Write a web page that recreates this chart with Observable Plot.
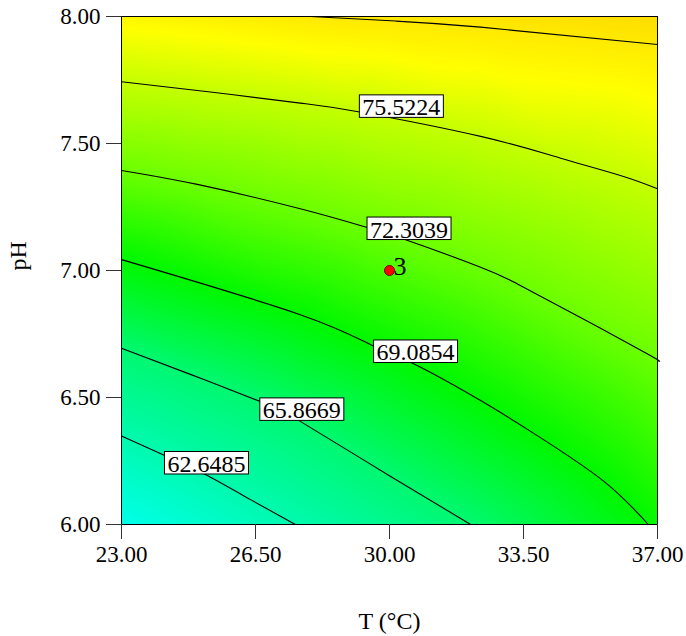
<!DOCTYPE html>
<html>
<head>
<meta charset="utf-8">
<script src="https://cdn.jsdelivr.net/npm/d3@7"></script>
<script src="https://cdn.jsdelivr.net/npm/@observablehq/plot@0.6"></script>
<style>
  html, body { margin: 0; padding: 0; background: #fff; }
  svg text { font-family: "Liberation Serif", "Times New Roman", serif; }
</style>
</head>
<body>
<div id="chart"></div>
<script>
// ---- data ----
const xTicks = [23, 26.5, 30, 33.5, 37];
const yTicks = [6, 6.5, 7, 7.5, 8];
const levels = [62.6485, 65.8669, 69.0854, 72.3039, 75.5224, 78.7409];

// contour lines as [T, pH] points
const contour62 = [[23, 6.348], [24.13, 6.272], [25.19, 6.197], [26.37, 6.098], [27.54, 6.0]];
const contour65 = [[23, 6.694], [24.80, 6.591], [26.63, 6.484], [27.67, 6.406], [30.03, 6.189], [32.12, 6.0]];
const contour69 = [[23, 7.043], [27.67, 6.826], [29.55, 6.705], [30.63, 6.633], [32.38, 6.488], [33.86, 6.350], [35.60, 6.170], [36.76, 6.0]];
const contour72 = [[23, 7.394], [24.98, 7.339], [27.67, 7.243], [29.40, 7.170], [30.42, 7.121], [32.38, 7.013], [33.33, 6.948], [34.73, 6.836], [36.73, 6.672], [37, 6.646]];
const contour75 = [[23, 7.743], [25.32, 7.703], [27.67, 7.659], [29.22, 7.624], [32.38, 7.528], [34.47, 7.442], [36.03, 7.374], [37, 7.322]];
const contour78 = [[27.94, 8.0], [30.16, 7.982], [32.38, 7.958], [37, 7.890]];
const contours = [contour62, contour65, contour69, contour72, contour75, contour78];

// estimated response at the four corners
const cornerT = [23, 37, 23, 37];
const cornerPH = [6, 6, 8, 8];
const cornerValue = [59.4, 69.25, 77.9, 79.5];

// contour labels
const labelLevels = [62.6485, 65.8669, 69.0854, 72.3039, 75.5224];
const labelT = [25.22, 27.71, 30.68, 30.51, 30.31];
const labelPH = [6.237, 6.448, 6.676, 7.160, 7.641];

// design point
const designT = [30];
const designPH = [7];
const designText = ["3"];

// colour ramp
const colorDomain = [59.5, 62.6, 65.9, 69.1, 72.3, 75.5, 77.5, 80];
const colorRange = ["#00ffe8", "#00fab0", "#00f870", "#00f800", "#6cff00", "#c4ff00", "#ffff00", "#ffd400"];

// ---- build tables ----
const samples = [];
contours.forEach((c, i) => c.forEach(([T, pH]) => samples.push({T, pH, v: levels[i]})));
cornerT.forEach((T, i) => samples.push({T, pH: cornerPH[i], v: cornerValue[i]}));

const labels = labelLevels.map((v, i) => ({T: labelT[i], pH: labelPH[i], text: v.toFixed(4)}));
const design = designT.map((T, i) => ({T, pH: designPH[i], text: designText[i]}));

const font = "Liberation Serif";

const chart = Plot.plot({
  width: 686,
  height: 636,
  marginLeft: 121,
  marginRight: 29,
  marginTop: 16,
  marginBottom: 112,
  style: {fontFamily: font, background: "#fff", color: "#000"},
  x: {domain: [23, 37]},
  y: {domain: [6, 8]},
  color: {type: "linear", domain: colorDomain, range: colorRange, interpolate: "rgb", clamp: true},
  marks: [
    Plot.raster(samples, {x: "T", y: "pH", fill: "v", interpolate: "barycentric", pixelSize: 1, x1: 23, x2: 37, y1: 6, y2: 8}),
    ...contours.map(c => Plot.line(c, {x: d => d[0], y: d => d[1], curve: "natural", stroke: "#000", strokeWidth: 1.1})),
    Plot.text(labels, {x: "T", y: "pH", text: "text", fontSize: 24, fontFamily: font, fill: "#000", ariaDescription: "contour-labels"}),
    Plot.dot(design, {x: "T", y: "pH", r: 5, fill: "#ff0000", stroke: "#700", strokeWidth: 1}),
    Plot.text(design, {x: "T", y: "pH", text: "text", textAnchor: "start", dx: 4, dy: -4, fontSize: 26, fontFamily: font, fill: "#000"}),
    Plot.frame({stroke: "#000", strokeWidth: 1}),
    Plot.axisX({ticks: xTicks, tickFormat: d => d.toFixed(2), tickSize: 15, tickPadding: 6, fontSize: 23, fontFamily: font, label: null, stroke: "#333"}),
    Plot.axisY({ticks: yTicks, tickFormat: d => d.toFixed(2), tickSize: 15, tickPadding: 6, fontSize: 23, fontFamily: font, label: null, stroke: "#333"}),
    Plot.text(["T (°C)"], {frameAnchor: "bottom", dy: 104, text: d => d, fontSize: 24, fontFamily: font, fill: "#000"}),
    Plot.text(["pH"], {frameAnchor: "left", dx: -103, rotate: -90, text: d => d, fontSize: 24, fontFamily: font, fill: "#000"})
  ]
});

document.getElementById("chart").append(chart);

// white boxes behind the contour labels
const svgNS = "http://www.w3.org/2000/svg";
let groups = Array.from(chart.querySelectorAll('g[aria-description="contour-labels"]'));
if (!groups.length) groups = Array.from(chart.querySelectorAll('g[font-size="24"]')).slice(0, 1);
groups.forEach(g => g.querySelectorAll("text").forEach(t => {
  const b = t.getBBox();
  const r = document.createElementNS(svgNS, "rect");
  r.setAttribute("x", b.x - 3);
  r.setAttribute("y", b.y + 0.5);
  r.setAttribute("width", b.width + 6);
  r.setAttribute("height", b.height - 3.5);
  r.setAttribute("fill", "#fff");
  r.setAttribute("stroke", "#000");
  r.setAttribute("stroke-width", "1");
  if (t.getAttribute("transform")) r.setAttribute("transform", t.getAttribute("transform"));
  t.parentNode.insertBefore(r, t);
}));
</script>
</body>
</html>
